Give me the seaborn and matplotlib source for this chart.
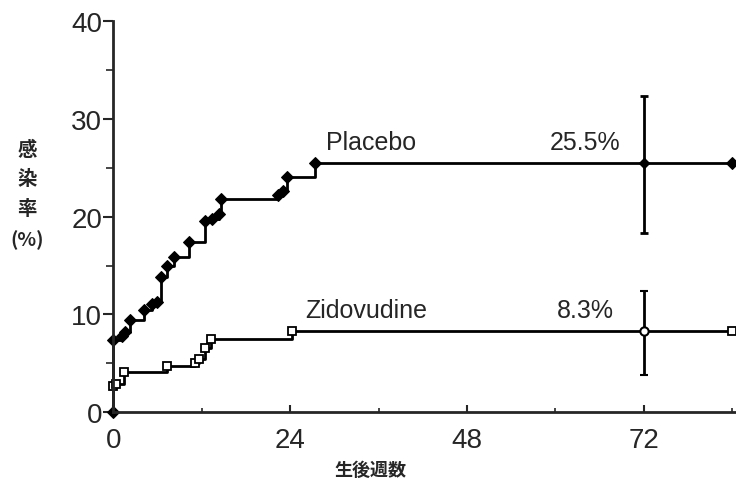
import matplotlib
matplotlib.use("Agg")
import matplotlib.pyplot as plt
import seaborn as sns
import pandas as pd
from matplotlib.ticker import MultipleLocator

sns.set_style("ticks")
plt.rcParams['font.family'] = ['Liberation Sans', 'Noto Sans CJK JP', 'DejaVu Sans']

# Kaplan-Meier style curves (weeks after birth vs infection rate %)
placebo_weeks = [0, 0, 1.2, 1.6, 2.3, 4.1, 5.2, 5.9, 6.4, 7.3, 8.2, 10.2, 12.5,
                 13.4, 14.3, 14.6, 22.4, 23.0, 23.6, 27.4, 84]
placebo_rate = [0, 7.4, 7.8, 8.2, 9.4, 10.5, 11.1, 11.3, 13.8, 15.0, 15.9, 17.4,
                19.5, 19.8, 20.3, 21.8, 22.2, 22.6, 24.1, 25.5, 25.5]

zdv_weeks = [0, 0.3, 1.4, 7.3, 11.1, 11.6, 12.5, 13.2, 24.2, 84]
zdv_rate = [2.7, 2.9, 4.1, 4.7, 5.0, 5.4, 6.6, 7.5, 8.3, 8.3]

# estimates at 72 weeks with confidence intervals
est_week = 72
placebo_est, placebo_lo, placebo_hi = 25.5, 18.3, 32.3
zdv_est, zdv_lo, zdv_hi = 8.3, 3.8, 12.4

placebo_df = pd.DataFrame({"week": placebo_weeks, "rate": placebo_rate})
zdv_df = pd.DataFrame({"week": zdv_weeks, "rate": zdv_rate})

fig = plt.figure(figsize=(7.36, 4.89), dpi=100)
ax = fig.add_axes([0.154, 0.155, 0.846, 0.80])

sns.lineplot(data=placebo_df, x="week", y="rate", ax=ax, sort=False,
             estimator=None, drawstyle="steps-post", color="black",
             linewidth=2.0, marker="D", markersize=6, markeredgecolor="black",
             markerfacecolor="black", clip_on=False)
sns.lineplot(data=zdv_df, x="week", y="rate", ax=ax, sort=False,
             estimator=None, drawstyle="steps-post", color="black",
             linewidth=2.0, marker="s", markersize=5.5, markeredgecolor="black",
             markerfacecolor="white", markeredgewidth=1.3, clip_on=False)

ax.errorbar([est_week], [placebo_est],
            yerr=[[placebo_est - placebo_lo], [placebo_hi - placebo_est]],
            fmt="D", color="black", markersize=5, capsize=3, elinewidth=2.0,
            capthick=2.0)
ax.errorbar([est_week], [zdv_est],
            yerr=[[zdv_est - zdv_lo], [zdv_hi - zdv_est]],
            fmt="o", color="black", markerfacecolor="white", markersize=6,
            markeredgewidth=1.5, capsize=3, elinewidth=2.0, capthick=2.0)

ax.text(28.8, 27.6, "Placebo", fontsize=18, va="center", ha="left")
ax.text(64, 27.6, "25.5%", fontsize=18, va="center", ha="center")
ax.text(26.1, 10.4, "Zidovudine", fontsize=18, va="center", ha="left")
ax.text(64, 10.4, "8.3%", fontsize=18, va="center", ha="center")

ax.set_xlim(0, 84.5)
ax.set_ylim(0, 40)
ax.set_xticks([0, 24, 48, 72])
ax.set_yticks([0, 10, 20, 30, 40])
ax.xaxis.set_minor_locator(MultipleLocator(12))
ax.yaxis.set_minor_locator(MultipleLocator(5))
ax.tick_params(axis="y", which="major", direction="out", length=7, width=1.5,
               labelsize=20, pad=1)
ax.tick_params(axis="y", which="minor", direction="out", length=5, width=1.2)
ax.tick_params(axis="x", which="major", direction="in", length=5, width=1.5,
               labelsize=20, pad=11)
ax.tick_params(axis="x", which="minor", direction="in", length=3, width=1.2)
for side in ["left", "bottom"]:
    ax.spines[side].set_linewidth(2.0)
sns.despine(ax=ax)

ax.set_xlabel("")
ax.set_ylabel("")
fig.text(0.503, 0.037, "生後週数", family=['Noto Sans CJK JP'],
         fontweight="bold", fontsize=13, ha="center", va="center")
fig.text(0.037, 0.601, "感\n染\n率\n(%)", family=['Noto Sans CJK JP'],
         fontweight="bold", fontsize=14, ha="center", va="center",
         linespacing=1.7)

fig.savefig("out.png", dpi=100)
